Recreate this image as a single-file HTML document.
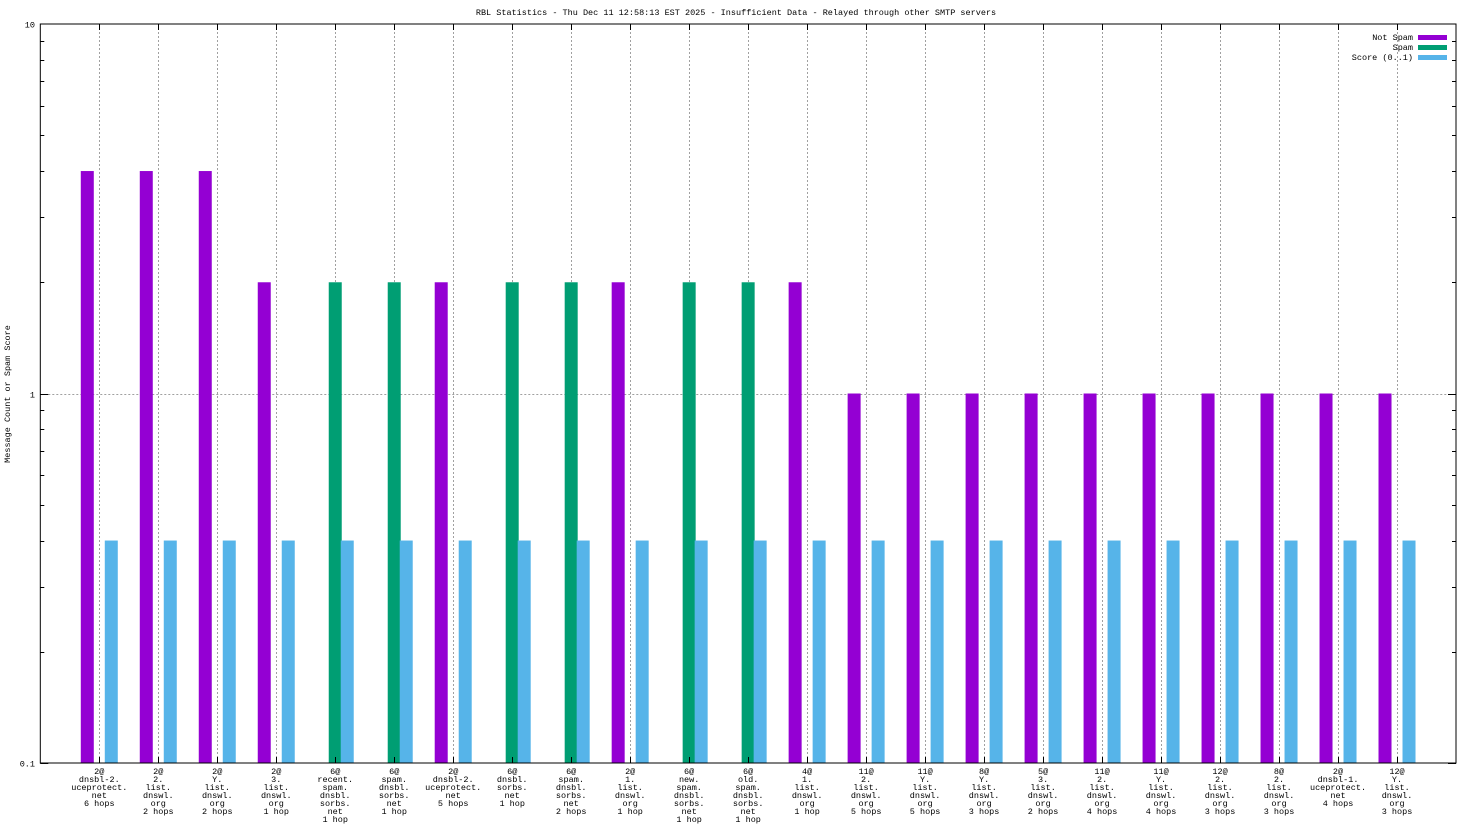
<!DOCTYPE html>
<html><head><meta charset="utf-8"><style>
html,body{margin:0;padding:0;background:#fff;}
svg{display:block;font-family:"Liberation Mono","DejaVu Sans Mono",monospace;}
</style></head><body>
<svg id="chart" width="1472" height="828" xmlns="http://www.w3.org/2000/svg">
<rect width="1472" height="828" fill="#fff"/>
<text x="736" y="15" font-size="8.5" text-anchor="middle">RBL Statistics - Thu Dec 11 12:58:13 EST 2025 - Insufficient Data - Relayed through other SMTP servers</text>
<text transform="translate(10,394) rotate(-90)" font-size="8.5" text-anchor="middle">Message Count or Spam Score</text>
<g id="grid"></g><g id="bars"></g><g id="axes"></g><g id="labels"></g>
<g>
<text x="1413" y="40" font-size="8.5" text-anchor="end">Not Spam</text>
<rect x="1418" y="35" width="29" height="5" fill="#9400d3"/>
<text x="1413" y="50" font-size="8.5" text-anchor="end">Spam</text>
<rect x="1418" y="45" width="29" height="5" fill="#009e73"/>
<text x="1413" y="60" font-size="8.5" text-anchor="end">Score (0..1)</text>
<rect x="1418" y="55" width="29" height="5" fill="#56b4e9"/>
</g>
</svg>
<script>
const categories = [
 ["2@","dnsbl-2.","uceprotect.","net","6 hops"],
 ["2@","2.","list.","dnswl.","org","2 hops"],
 ["2@","Y.","list.","dnswl.","org","2 hops"],
 ["2@","3.","list.","dnswl.","org","1 hop"],
 ["6@","recent.","spam.","dnsbl.","sorbs.","net","1 hop"],
 ["6@","spam.","dnsbl.","sorbs.","net","1 hop"],
 ["2@","dnsbl-2.","uceprotect.","net","5 hops"],
 ["6@","dnsbl.","sorbs.","net","1 hop"],
 ["6@","spam.","dnsbl.","sorbs.","net","2 hops"],
 ["2@","1.","list.","dnswl.","org","1 hop"],
 ["6@","new.","spam.","dnsbl.","sorbs.","net","1 hop"],
 ["6@","old.","spam.","dnsbl.","sorbs.","net","1 hop"],
 ["4@","1.","list.","dnswl.","org","1 hop"],
 ["11@","2.","list.","dnswl.","org","5 hops"],
 ["11@","Y.","list.","dnswl.","org","5 hops"],
 ["8@","Y.","list.","dnswl.","org","3 hops"],
 ["5@","3.","list.","dnswl.","org","2 hops"],
 ["11@","2.","list.","dnswl.","org","4 hops"],
 ["11@","Y.","list.","dnswl.","org","4 hops"],
 ["12@","2.","list.","dnswl.","org","3 hops"],
 ["8@","2.","list.","dnswl.","org","3 hops"],
 ["2@","dnsbl-1.","uceprotect.","net","4 hops"],
 ["12@","Y.","list.","dnswl.","org","3 hops"]
];
const notSpam = [4,4,4,2,0,0,2,0,0,2,0,0,2,1,1,1,1,1,1,1,1,1,1];
const spam    = [0,0,0,0,2,2,0,2,2,0,2,2,0,0,0,0,0,0,0,0,0,0,0];
const score   = [0.4,0.4,0.4,0.4,0.4,0.4,0.4,0.4,0.4,0.4,0.4,0.4,0.4,0.4,0.4,0.4,0.4,0.4,0.4,0.4,0.4,0.4,0.4];
const yTicks = [0.1,1,10];
const yTickLabels = ["0.1","1","10"];

const NS="http://www.w3.org/2000/svg";
const L=40.3,R=1456,T=24,B=763;
const step=(R-L)/(categories.length+1);
const xs=i=>L+step*(i+1);
const ys=v=>B-(Math.log10(v)+1)/2*(B-T);
function mk(tag,attrs,parent){const e=document.createElementNS(NS,tag);for(const k in attrs)e.setAttribute(k,attrs[k]);parent.appendChild(e);return e;}
const grid=document.getElementById('grid'),bars=document.getElementById('bars'),axes=document.getElementById('axes'),labels=document.getElementById('labels');

// vertical grid + x ticks
categories.forEach((c,i)=>{
 const x=Math.round(xs(i))+0.5;
 const g=mk('line',{x1:x,x2:x,y1:T,y2:B,stroke:'#a0a0a0','stroke-dasharray':'2,2','stroke-width':1},grid);
 
 
 const t1=mk('line',{x1:x,x2:x,y1:B,y2:B-6,stroke:'#000'},axes);
 
 
 const t2=mk('line',{x1:x,x2:x,y1:T,y2:T+6,stroke:'#000'},axes);
 
 
 const tx=mk('text',{x:xs(i),'font-size':8.5,'text-anchor':'middle'},labels);
 
 
 c.forEach((line,j)=>{const ts=mk('tspan',{x:xs(i),y:774+j*8},tx);ts.textContent=line;});
});
// horizontal grid at 1
const hg=mk('line',{x1:L,x2:R,y1:Math.round(ys(1))+0.5,y2:Math.round(ys(1))+0.5,stroke:'#a0a0a0','stroke-dasharray':'2,2'},grid);


// y ticks
yTicks.forEach((v,i)=>{
 const y=Math.round(ys(v))+0.5;
 const tl=mk('text',{x:35,y:y+3,'font-size':8.5,'text-anchor':'end'},labels);
 
 
 tl.textContent=yTickLabels[i];
 if(i<yTicks.length-1){
  for(let m=1;m<=9;m++){
   const yy=Math.round(ys(v*m))+0.5;const len=m===1?8:4;
   const a=mk('line',{x1:L,x2:L+len,y1:yy,y2:yy,stroke:'#000'},axes);
   
   
   const b=mk('line',{x1:R-len,x2:R,y1:yy,y2:yy,stroke:'#000'},axes);
   
   
  }
 }
});
// bars
const bw=13;
function bar(i,v,off,color,name){
 if(!v||v<=0.1)return;
 const y=ys(v);
 const r=mk('rect',{x:xs(i)+off-bw/2,y:y,width:bw,height:B-y,fill:color},bars);
 
 
}
categories.forEach((c,i)=>{
 bar(i,notSpam[i],-12,'#9400d3','bar-not-spam');
 bar(i,spam[i],0,'#009e73','bar-spam');
 bar(i,score[i],12,'#56b4e9','bar-score');
});
// frame
const fr=mk('rect',{x:L,y:T,width:R-L,height:B-T,fill:'none',stroke:'#000','stroke-width':1},axes);


</script>
</body></html>
